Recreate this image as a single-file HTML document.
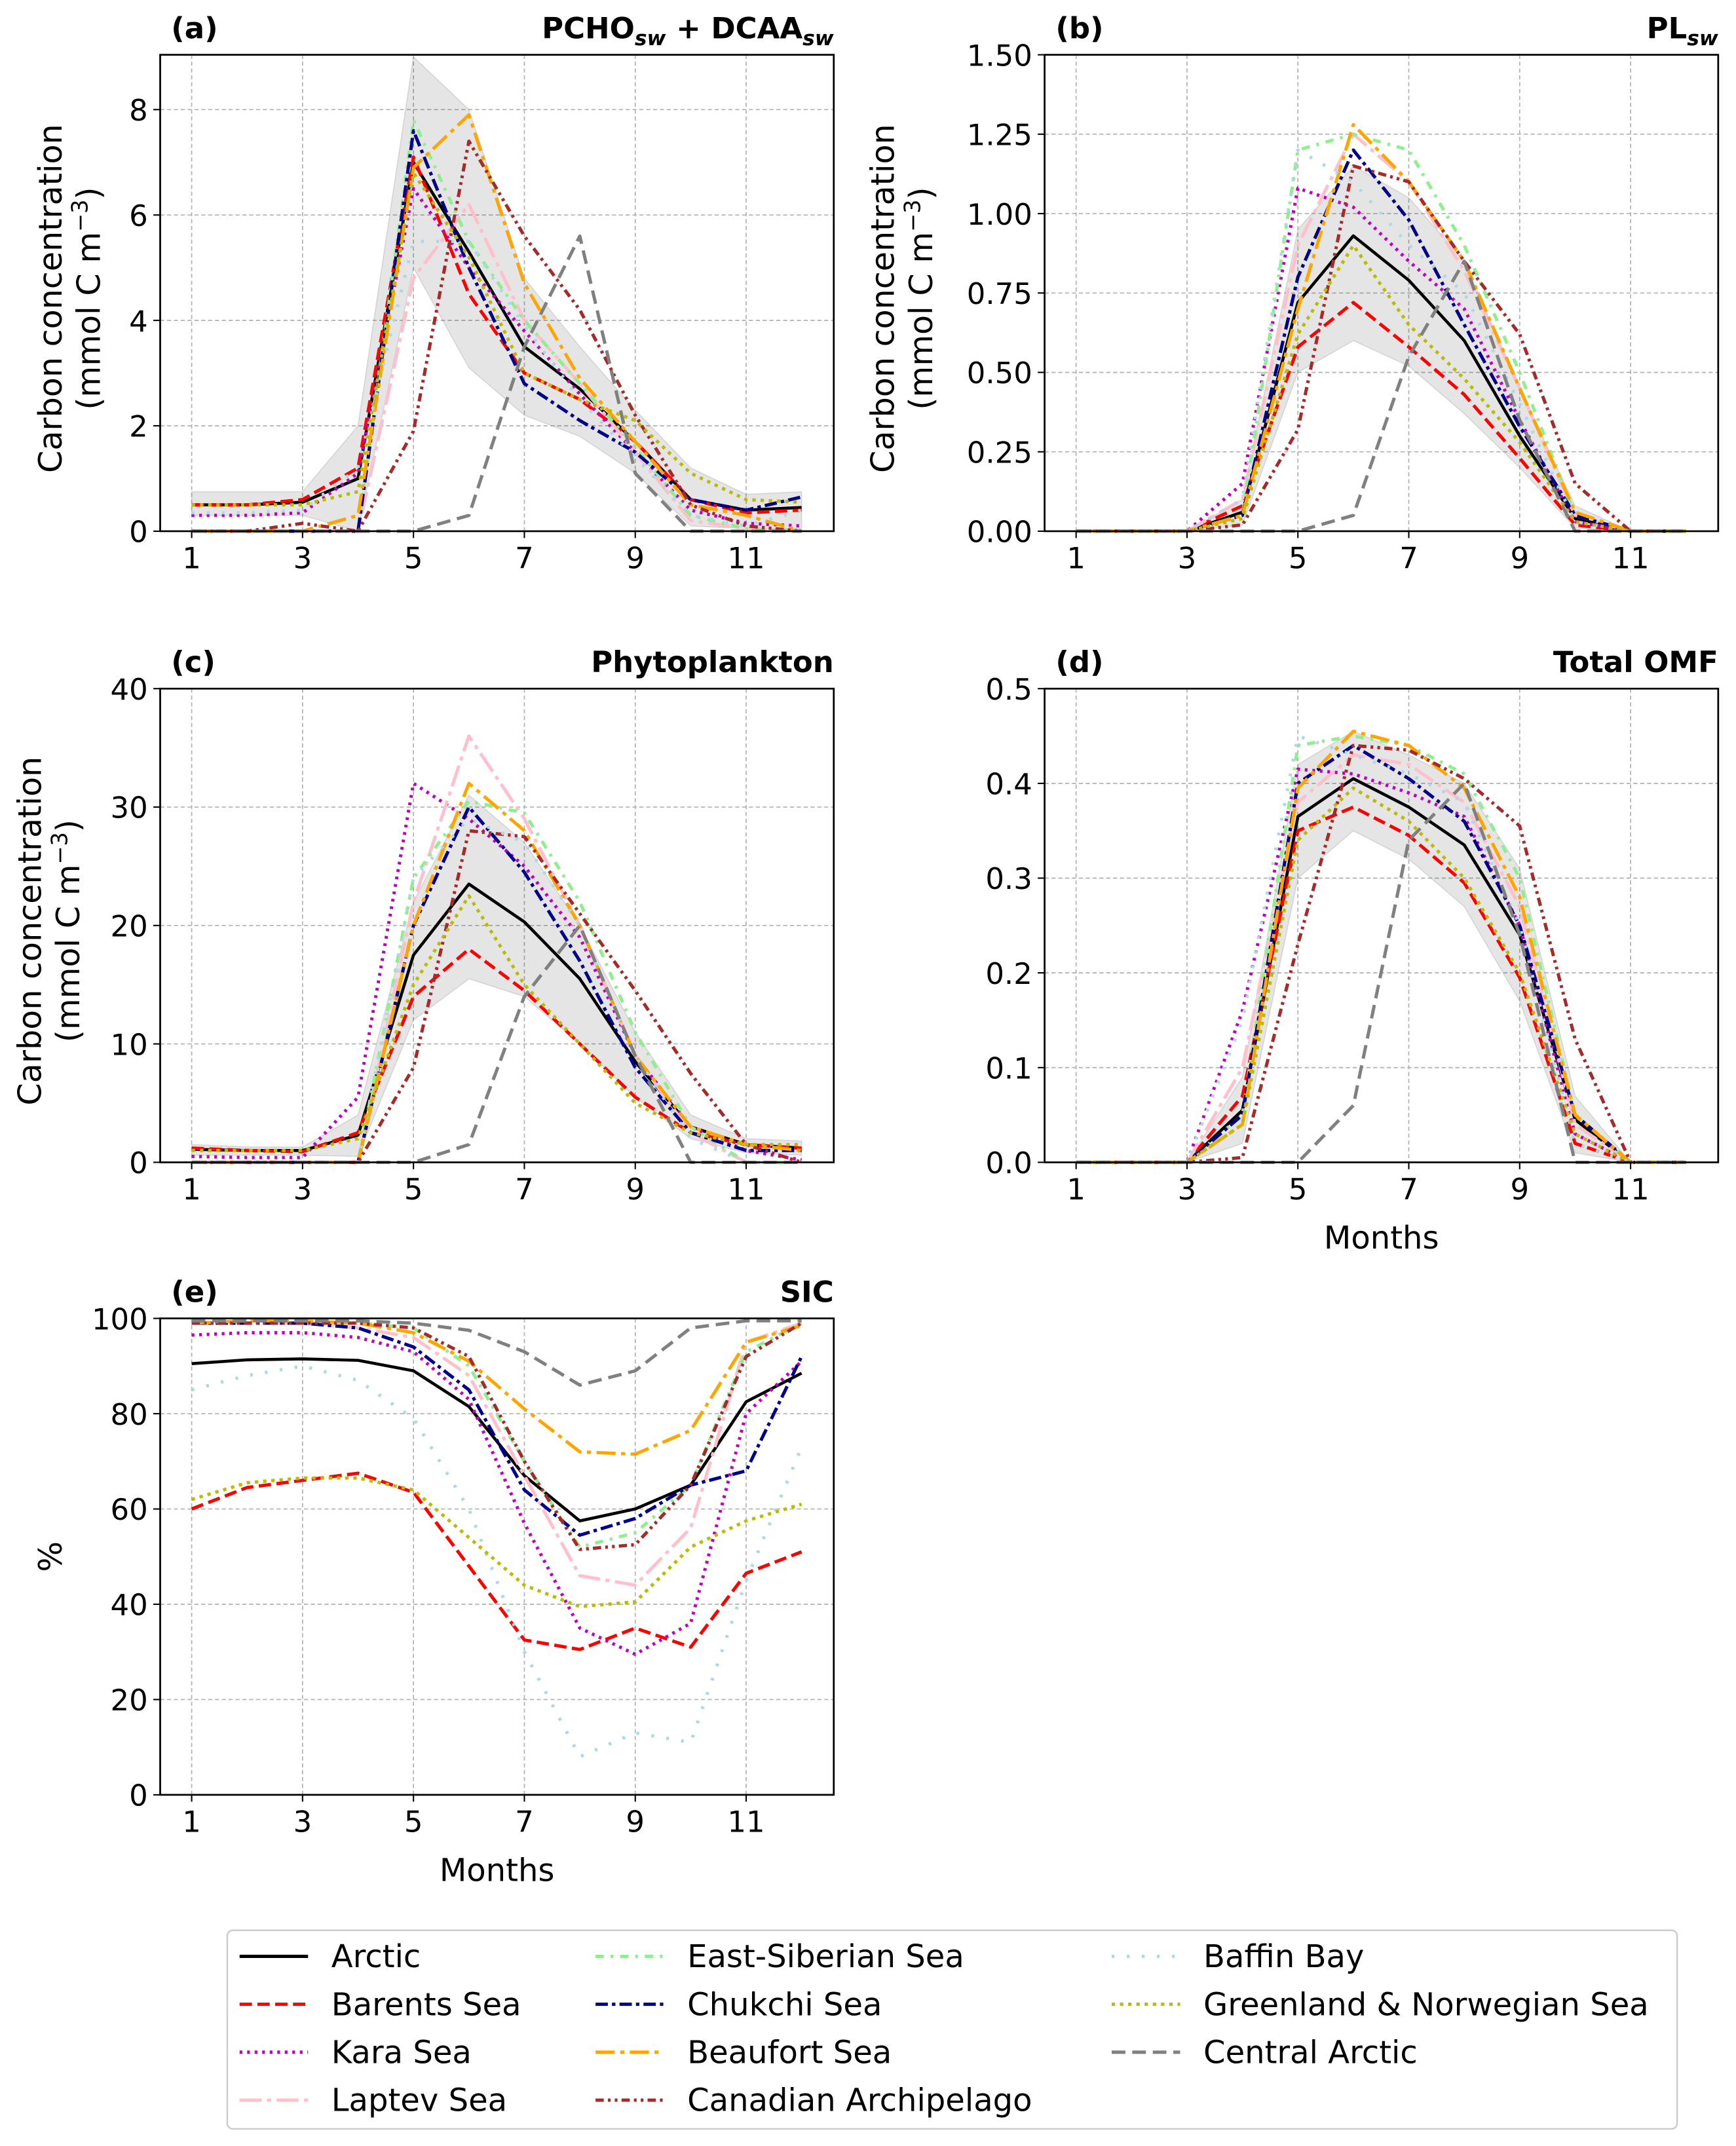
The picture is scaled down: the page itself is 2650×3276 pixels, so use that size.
<!DOCTYPE html>
<html><head><meta charset="utf-8">
<style>
html,body{margin:0;padding:0;background:#fff;}
svg{display:block;font-family:"DejaVu Sans","Liberation Sans",sans-serif;}
</style></head>
<body>
<svg id="fig" xmlns="http://www.w3.org/2000/svg" width="2650" height="3276" viewBox="0 0 1268 1567.5">
<rect width="1268" height="1567.5" fill="#fff"/>
</svg>
<script>
const months = [1,2,3,4,5,6,7,8,9,10,11,12];
const seriesNames = ["Arctic","Barents Sea","Kara Sea","Laptev Sea","East-Siberian Sea","Chukchi Sea","Beaufort Sea","Canadian Archipelago","Baffin Bay","Greenland & Norwegian Sea","Central Arctic"];
const xTicks = [1,3,5,7,9,11];
const yTicksA = [0,2,4,6,8];
const yTicksB = ["0.00","0.25","0.50","0.75","1.00","1.25","1.50"];
const yTicksC = [0,10,20,30,40];
const yTicksD = ["0.0","0.1","0.2","0.3","0.4","0.5"];
const yTicksE = [0,20,40,60,80,100];

const pchoA = [
[.5,.5,.55,1.0,7.0,5.3,3.5,2.7,1.7,.6,.4,.45],
[.5,.5,.6,1.2,7.1,4.5,3.0,2.5,1.7,.6,.35,.4],
[.3,.3,.35,1.1,6.5,5.0,3.8,2.6,1.5,.4,.15,.1],
[0,0,0,0,4.8,6.2,4.0,2.8,1.5,.2,.05,0],
[0,0,0,0,7.8,5.5,4.0,2.8,1.6,.3,.05,0],
[0,0,0,0,7.6,5.0,2.8,2.1,1.5,.6,.4,.65],
[0,0,0,.3,6.9,7.9,4.7,2.9,1.7,.5,.3,0],
[0,0,.15,0,1.9,7.4,5.6,4.2,2.2,.5,.1,0],
[.35,.35,.4,1.2,5.5,5.5,3.9,2.5,1.4,.3,.1,.4],
[.5,.5,.5,.75,6.8,5.2,3.0,2.5,2.1,1.1,.6,.55],
[0,0,0,0,0,.3,3.5,5.6,1.1,0,0,0]];
const pchoBand = [[.75,.75,.75,2.0,9.0,8.0,4.8,3.5,2.3,1.2,.7,.75],[.3,.3,.3,0,5.0,3.1,2.2,1.8,1.1,.1,.05,.05]];

const plB = [
[0,0,0,.06,.72,.93,.79,.6,.3,.04,0,0],
[0,0,0,.08,.58,.72,.58,.43,.23,.02,0,0],
[0,0,0,.15,1.08,1.02,.85,.7,.35,.03,0,0],
[0,0,0,.1,.9,1.25,1.1,.82,.45,.05,0,0],
[0,0,0,.05,1.2,1.25,1.2,.9,.5,.05,0,0],
[0,0,0,.05,.8,1.2,.98,.65,.33,.05,0,0],
[0,0,0,.05,.7,1.28,1.1,.85,.45,.06,0,0],
[0,0,0,.02,.32,1.15,1.1,.85,.62,.15,0,0],
[0,0,0,.1,1.2,1.1,.9,.75,.4,.03,0,0],
[0,0,0,.04,.62,.9,.65,.48,.28,.03,0,0],
[0,0,0,0,0,.05,.55,.85,.35,0,0,0]];
const plBand = [[0,0,0,.1,.95,1.15,1.05,.85,.45,.08,0,0],[0,0,0,.02,.5,.6,.52,.37,.2,.01,0,0]];

const phytoC = [
[1.1,1,1,2.3,17.5,23.5,20.3,15.5,8.5,3,1.5,1.2],
[1.2,1,.9,2.5,14,18,14.5,10,5.5,2.5,1.5,1.2],
[.5,.4,.4,5.5,32,29,25,19,9,3,1,.2],
[0,0,0,0,22,36,29,20,9,2.5,0,0],
[0,0,0,0,24,30.5,29.5,22,11,3,0,0],
[0,0,0,0,20,30,24.5,17,8,2.5,1,1],
[0,0,0,0,20,32,28,20,9,3,1.5,1],
[0,0,0,0,8,28,27.5,21,14.5,7.5,1.5,0],
[0,0,0,0,24,29,27,20,9,2,0,0],
[1,1,1,2,15,22.5,15,10,5,2.5,1.5,1.5],
[0,0,0,0,0,1.5,14,20,9,0,0,0]];
const phytoBand = [[1.5,1.3,1.3,4,22,31,27,20,11,4,2,1.8],[.6,.6,.6,.5,12,15.5,14,10,5.5,2,.8,.6]];

const omfD = [
[0,0,0,.055,.365,.405,.375,.335,.24,.045,0,0],
[0,0,0,.07,.35,.375,.345,.295,.195,.02,0,0],
[0,0,0,.16,.415,.41,.39,.365,.25,.03,0,0],
[0,0,0,.1,.38,.43,.42,.38,.27,.04,0,0],
[0,0,0,.05,.44,.45,.44,.41,.3,.05,0,0],
[0,0,0,.05,.4,.44,.405,.36,.25,.05,0,0],
[0,0,0,.04,.395,.455,.44,.395,.28,.05,0,0],
[0,0,0,.005,.23,.44,.435,.405,.355,.13,0,0],
[0,0,0,.15,.45,.43,.41,.38,.25,.02,0,0],
[0,0,0,.04,.34,.395,.36,.3,.2,.03,0,0],
[0,0,0,0,0,.06,.34,.4,.24,0,0,0]];
const omfBand = [[0,0,0,.09,.42,.455,.43,.4,.31,.07,0,0],[0,0,0,.02,.3,.35,.32,.27,.17,.01,0,0]];

const sicE = [
[90.5,91.3,91.5,91.2,89,81.5,67,57.5,60,65,82.5,88.5],
[60,64.5,66,67.5,63.5,48,32.5,30.5,35,31,46.5,51],
[96.5,97,97,96,93,83,57,35,29.5,36,80,91],
[99,99,99,98,96,88,67,46,44,56,95,99],
[99,99,99,99,98,90,70,52,55,65,93,99],
[99,99,99,98,94,85,64,54.5,58,65,68,92],
[99,99.5,99.5,99,97,91,81,72,71.5,76.5,95,98.5],
[99,99,99,99,98,92,70,51.5,52.5,65,92,99],
[85,88,90,87,79,60,30,8,13,11,45,73],
[62,65.5,66.5,66.5,64,54,44,39.5,40.5,52,57.5,61],
[99.5,99.5,99.5,99.5,99,97.5,93,86,89,98,99.5,99.5]];

const styles = [
{c:"#000000",d:""},
{c:"#ff0000",d:"9,4"},
{c:"#c000c0",d:"2,3.5"},
{c:"#ffc0cb",d:"16,4,3,4"},
{c:"#90ee90",d:"6,5,2,5"},
{c:"#00008b",d:"9,3,2.5,3"},
{c:"#ffa500",d:"14,4,3,4"},
{c:"#a52a2a",d:"6,3,2,3,2,3"},
{c:"#add8e6",d:"2,9"},
{c:"#bbbb00",d:"2.5,3.5"},
{c:"#808080",d:"10,5"}];

const NS="http://www.w3.org/2000/svg";
const svg=document.getElementById("fig");
function mk(tag,attrs,parent){const e=document.createElementNS(NS,tag);for(const k in attrs)e.setAttribute(k,attrs[k]);(parent||svg).appendChild(e);return e;}

function panel(p){
  const g=mk("g",{});
  
  
  const xs=m=>p.x0+23+(m-1)*40.5;
  const ys=v=>p.y1-(v-p.ymin)/(p.ymax-p.ymin)*(p.y1-p.y0);
  xTicks.forEach(t=>{const l=mk("line",{x1:xs(t),x2:xs(t),y1:p.y0,y2:p.y1,stroke:"#b0b0b0","stroke-width":0.8,"stroke-dasharray":"3,2"},g);
    });
  p.yt.forEach(t=>{const v=parseFloat(t);const l=mk("line",{x1:p.x0,x2:p.x1,y1:ys(v),y2:ys(v),stroke:"#b0b0b0","stroke-width":0.8,"stroke-dasharray":"3,2"},g);
    });
  if(p.band){
    let pts=months.map((m,i)=>xs(m)+","+ys(p.band[0][i]));
    pts=pts.concat(months.slice().reverse().map((m,j)=>xs(m)+","+ys(p.band[1][11-j])));
    const b=mk("polygon",{points:pts.join(" "),fill:"#000","fill-opacity":0.1,stroke:"#999","stroke-opacity":0.3,"stroke-width":0.8},g);
    
  }
  p.data.forEach((row,si)=>{
    const pts=months.map((m,i)=>xs(m)+","+ys(row[i])).join(" ");
    const l=mk("polyline",{points:pts,fill:"none",stroke:styles[si].c,"stroke-width":si==0?2.2:2.4,"stroke-dasharray":styles[si].d,"stroke-linejoin":"round"},g);
    
    
  });
  const f=mk("rect",{x:p.x0,y:p.y0,width:p.x1-p.x0,height:p.y1-p.y0,fill:"none",stroke:"#000","stroke-width":1.3},g);
  
  xTicks.forEach(t=>{mk("line",{x1:xs(t),x2:xs(t),y1:p.y1,y2:p.y1+5,stroke:"#000","stroke-width":1},g);
    const tx=mk("text",{x:xs(t),y:p.y1+27,"font-size":21.5,"text-anchor":"middle"},g);tx.textContent=t;
    });
  p.yt.forEach(t=>{const v=parseFloat(t);mk("line",{x1:p.x0-5,x2:p.x0,y1:ys(v),y2:ys(v),stroke:"#000","stroke-width":1},g);
    const tx=mk("text",{x:p.x0-9,y:ys(v)+8,"font-size":21.5,"text-anchor":"end"},g);tx.textContent=t;
    });
  const lt=mk("text",{x:p.x0+8,y:p.y0-12,"font-size":21.5,"font-weight":"bold"},g);lt.textContent=p.letter;
  
  const tt=mk("text",{x:p.x1,y:p.y0-12,"font-size":21.5,"font-weight":"bold","text-anchor":"end"},g);tt.innerHTML=p.title;
  
}

panel({id:"pcho",x0:117,x1:609,y0:40,y1:388,ymin:0,ymax:9.04,yt:yTicksA,data:pchoA,band:pchoBand,letter:"(a)",title:'PCHO<tspan font-size="15" font-style="italic" dy="5">sw</tspan><tspan dy="-5"> + DCAA</tspan><tspan font-size="15" font-style="italic" dy="5">sw</tspan>'});
panel({id:"pl",x0:763,x1:1255,y0:40,y1:388,ymin:0,ymax:1.5,yt:yTicksB,data:plB,band:plBand,letter:"(b)",title:'PL<tspan font-size="15" font-style="italic" dy="5">sw</tspan>'});
panel({id:"phyto",x0:117,x1:609,y0:503,y1:849,ymin:0,ymax:40,yt:yTicksC,data:phytoC,band:phytoBand,letter:"(c)",title:'Phytoplankton'});
panel({id:"omf",x0:763,x1:1255,y0:503,y1:849,ymin:0,ymax:0.5,yt:yTicksD,data:omfD,band:omfBand,letter:"(d)",title:'Total OMF'});
panel({id:"sic",x0:117,x1:609,y0:963,y1:1311,ymin:0,ymax:100,yt:yTicksE,data:sicE,band:null,letter:"(e)",title:'SIC'});

function ylab(x,y,lines,name){
  const t=mk("text",{transform:`translate(${x},${y}) rotate(-90)`,"font-size":23.5,"text-anchor":"middle"});
  lines.forEach((s,i)=>{const ts=mk("tspan",{x:0,dy:i?28:0},t);ts.innerHTML=s;});
  
}
const cc=["Carbon concentration",'(mmol C m<tspan font-size="16" dy="-9">−3</tspan><tspan dy="9">)</tspan>'];
ylab(45,218,cc,'y-axis-title-a');
ylab(653,218,cc,'y-axis-title-b');
ylab(30,680,cc,'y-axis-title-c');
ylab(45,1137,["%"],'y-axis-title-e');
function xl(x,y,name){const t=mk("text",{x:x,y:y,"font-size":23,"text-anchor":"middle"});t.textContent="Months";
  }
xl(1009,912,'x-axis-title-d');xl(363,1374,'x-axis-title-e');

const lg=mk("g",{});


mk("rect",{x:166,y:1410,width:1059,height:145,rx:4,fill:"#fff",stroke:"#ccc","stroke-width":1.2},lg);
const colX=[175,435,812];
seriesNames.forEach((n,i)=>{
  const col=i<4?0:(i<8?1:2);const row=i<4?i:(i<8?i-4:i-8);
  const y=1429+row*35;const x=colX[col];
  const e=mk("g",{},lg);
  
  
  mk("line",{x1:x,x2:x+50,y1:y,y2:y,stroke:styles[i].c,"stroke-width":2.4,"stroke-dasharray":styles[i].d},e);
  const t=mk("text",{x:x+67,y:y+8,"font-size":23},e);t.textContent=n;
});
</script>
</body></html>
